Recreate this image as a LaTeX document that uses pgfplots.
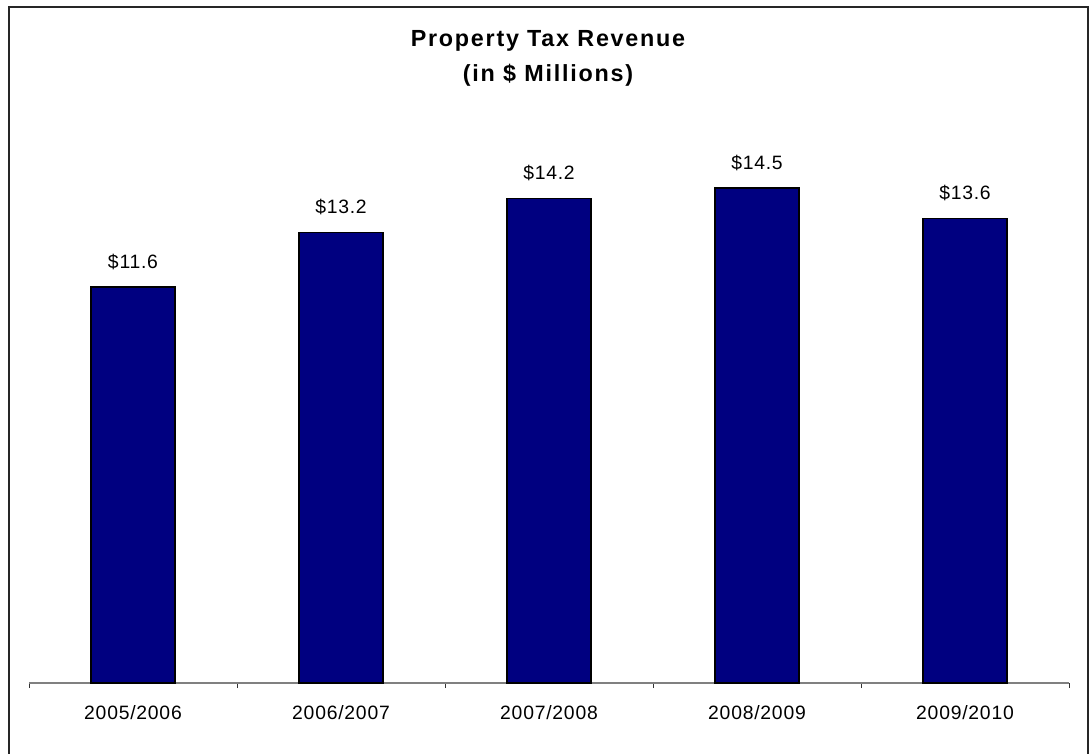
\documentclass[border=0pt]{standalone}
\usepackage{fontspec}
\setmainfont{Liberation Sans}
\newfontfamily\labelfont[LetterSpace=4]{Liberation Sans}
\newfontfamily\titlefont[LetterSpace=7.5]{Liberation Sans}
\usepackage{pgfplots}
\pgfplotsset{compat=1.18}
\definecolor{barnavy}{RGB}{0,0,128}
\definecolor{axgray}{RGB}{128,128,128}
\begin{document}
\begin{tikzpicture}
\useasboundingbox (0,0) rectangle (818.25pt,564.75pt);
\draw[line width=1pt, black!85] (6.75pt,-10pt) rectangle (816pt,559.5pt);
\node[anchor=base, inner sep=0pt, font=\titlefont\bfseries\fontsize{17.5pt}{20pt}\selectfont] at (411pt,529.7pt) {Property Tax Revenue};
\node[anchor=base, inner sep=0pt, font=\titlefont\bfseries\fontsize{17.5pt}{20pt}\selectfont] at (411pt,503.5pt) {(in \$ Millions)};
\begin{axis}[
  at={(21.75pt,52.5pt)}, anchor=south west,
  scale only axis, width=780pt, height=409.65pt,
  xmin=-0.5, xmax=4.5, ymin=0, ymax=16,
  axis x line=bottom, axis y line=none,
  x axis line style={-, axgray, line width=0.9pt},
  xtick={0,...,4}, xticklabels={2005/2006,2006/2007,2007/2008,2008/2009,2009/2010},
  minor xtick={-0.5,0.5,1.5,2.5,3.5,4.5},
  major tick length=0pt, minor tick length=3.75pt, tick align=outside,
  every tick/.style={black!80, line width=0.75pt},
  xticklabel style={anchor=base, inner sep=0pt, yshift=-27pt, font=\labelfont\fontsize{14.5pt}{17pt}\selectfont},
  ybar, bar width=63pt,
  nodes near coords, point meta=explicit symbolic,
  nodes near coords style={anchor=base, inner sep=0pt, yshift=14.25pt, font=\labelfont\fontsize{14.5pt}{17pt}\selectfont},
  clip=false,
]
\addplot[fill=barnavy, draw=black, line width=0.9pt] coordinates {
  (0,11.6) [\$11.6]
  (1,13.2) [\$13.2]
  (2,14.2) [\$14.2]
  (3,14.5) [\$14.5]
  (4,13.6) [\$13.6]
};
\end{axis}
\end{tikzpicture}
\end{document}
